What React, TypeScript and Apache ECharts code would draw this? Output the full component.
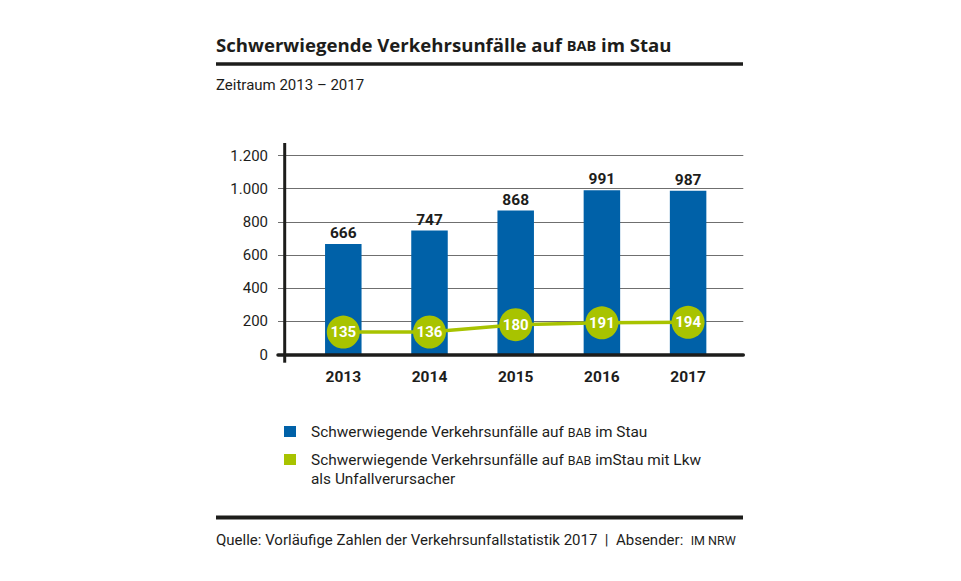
import React, { useEffect, useRef } from "react";
import * as echarts from "echarts";

const years = ["2013", "2014", "2015", "2016", "2017"];
const totalValues = [666, 747, 868, 991, 987];
const lkwValues = [135, 136, 180, 191, 194];
const yMin = 0;
const yMax = 1200;
const yInterval = 200;

const seriesNames = [
  "Schwerwiegende Verkehrsunfälle auf BAB im Stau",
  "Schwerwiegende Verkehrsunfälle auf BAB imStau mit Lkw als Unfallverursacher",
];

const BLUE = "#0061a8";
const GREEN = "#a8c300";
const INK = "#1d1d1b";
const FONT = "Roboto";
const TITLE_FONT = "Open Sans";

function fmt(v: number): string {
  return String(v).replace(/\B(?=(\d{3})+(?!\d))/g, ".");
}

export default function App() {
  const ref = useRef<HTMLDivElement>(null);
  useEffect(() => {
    if (!ref.current) return;
    const chart = echarts.init(ref.current, undefined, { renderer: "svg" });
    const base = { fontFamily: FONT, fontSize: 15, fill: INK };
    const option: any = {
      animation: false,
      backgroundColor: "#ffffff",
      textStyle: { fontFamily: FONT },
      grid: [
        { left: 278, right: 217.7, top: 155.5, bottom: 226.5 },
        { left: 300.2, right: 229.8, top: 155.5, bottom: 226.5 },
      ],
      xAxis: [
        {
          gridIndex: 0,
          type: "value",
          min: 0,
          max: 1,
          z: 5,
          axisLine: { show: true, onZero: false, lineStyle: { color: INK, width: 3.5 } },
          axisTick: { show: false },
          axisLabel: { show: false },
          splitLine: { show: false },
        },
        {
          gridIndex: 1,
          type: "category",
          data: years,
          axisLine: { show: false },
          axisTick: { show: false },
          axisLabel: {
            margin: 14,
            fontFamily: FONT,
            fontSize: 15.5,
            fontWeight: "bold",
            color: INK,
          },
        },
      ],
      yAxis: [
        {
          gridIndex: 0,
          type: "value",
          min: yMin,
          max: yMax,
          interval: yInterval,
          axisLine: { show: false },
          axisTick: { show: false },
          axisLabel: {
            margin: 10,
            fontFamily: FONT,
            fontSize: 15,
            color: INK,
            formatter: (v: number) => fmt(v),
          },
          splitLine: { show: true, lineStyle: { color: "#6f6f6f", width: 1 } },
        },
        {
          gridIndex: 1,
          type: "value",
          min: yMin,
          max: yMax,
          interval: yInterval,
          show: false,
          splitLine: { show: false },
        },
      ],
      series: [
        {
          name: seriesNames[0],
          type: "bar",
          xAxisIndex: 1,
          yAxisIndex: 1,
          data: totalValues,
          barWidth: 36.5,
          itemStyle: { color: BLUE },
          label: {
            show: true,
            position: "top",
            distance: 3,
            fontFamily: FONT,
            fontSize: 15.5,
            fontWeight: "bold",
            color: INK,
          },
          z: 2,
        },
        {
          name: seriesNames[1],
          type: "line",
          xAxisIndex: 1,
          yAxisIndex: 1,
          data: lkwValues,
          symbol: "circle",
          symbolSize: 33,
          itemStyle: { color: GREEN },
          lineStyle: { color: GREEN, width: 3.5 },
          label: {
            show: true,
            position: "inside",
            fontFamily: FONT,
            fontSize: 15,
            fontWeight: "bold",
            color: "#ffffff",
          },
          z: 10,
        },
      ],
      graphic: [
        {
          type: "text",
          x: 216,
          y: 44,
          style: {
            text: "{a|Schwerwiegende Verkehrsunfälle auf }{b|BAB}{a| im Stau}",
            verticalAlign: "middle",
            rich: {
              a: { fontFamily: TITLE_FONT, fontSize: 18.6, fontWeight: "bold", fill: INK, lineHeight: 22 },
              b: { fontFamily: TITLE_FONT, fontSize: 14.5, fontWeight: "bold", fill: INK, lineHeight: 22, padding: [3, 0, 0, 0] },
            },
          },
        },
        {
          type: "line",
          shape: { x1: 216, y1: 64, x2: 743, y2: 64 },
          style: { stroke: INK, lineWidth: 3.5 },
        },
        {
          type: "text",
          x: 216,
          y: 85,
          style: { ...base, text: "Zeitraum 2013 – 2017", verticalAlign: "middle" },
        },
        {
          type: "line",
          z: 100,
          shape: { x1: 284.7, y1: 143, x2: 284.7, y2: 362.7 },
          style: { stroke: INK, lineWidth: 3 },
        },
        {
          type: "rect",
          shape: { x: 284, y: 426, width: 12, height: 11 },
          style: { fill: BLUE },
        },
        {
          type: "rect",
          shape: { x: 284, y: 454, width: 12, height: 11 },
          style: { fill: GREEN },
        },
        {
          type: "text",
          x: 311,
          y: 431.5,
          style: {
            text: "{a|Schwerwiegende Verkehrsunfälle auf }{b|BAB}{a| im Stau}",
            verticalAlign: "middle",
            rich: {
              a: { fontFamily: FONT, fontSize: 15.4, fill: INK, lineHeight: 18.5 },
              b: { fontFamily: FONT, fontSize: 12.5, fill: INK, lineHeight: 18.5, padding: [1.5, 0, 0, 0] },
            },
          },
        },
        {
          type: "text",
          x: 311,
          y: 450.75,
          style: {
            text: "{a|Schwerwiegende Verkehrsunfälle auf }{b|BAB}{a| imStau mit Lkw}\n{a|als Unfallverursacher}",
            verticalAlign: "top",
            rich: {
              a: { fontFamily: FONT, fontSize: 15.4, fill: INK, lineHeight: 18.5 },
              b: { fontFamily: FONT, fontSize: 12.5, fill: INK, lineHeight: 18.5, padding: [1.5, 0, 0, 0] },
            },
          },
        },
        {
          type: "line",
          shape: { x1: 216, y1: 517.5, x2: 743, y2: 517.5 },
          style: { stroke: INK, lineWidth: 4 },
        },
        {
          type: "text",
          x: 216,
          y: 540,
          style: {
            text: "{a|Quelle: Vorläufige Zahlen der Verkehrsunfallstatistik 2017  |  Absender:  }{b|IM NRW}",
            verticalAlign: "middle",
            rich: {
              a: { fontFamily: FONT, fontSize: 15, fill: INK, lineHeight: 18 },
              b: { fontFamily: FONT, fontSize: 12.5, fill: INK, lineHeight: 18, padding: [1.5, 0, 0, 0] },
            },
          },
        },
      ],
    };
    chart.setOption(option);
    return () => chart.dispose();
  }, []);
  return (
    <div
      ref={ref}
      style={{ position: "fixed", left: 0, top: 0, width: 961, height: 581 }}
    />
  );
}
